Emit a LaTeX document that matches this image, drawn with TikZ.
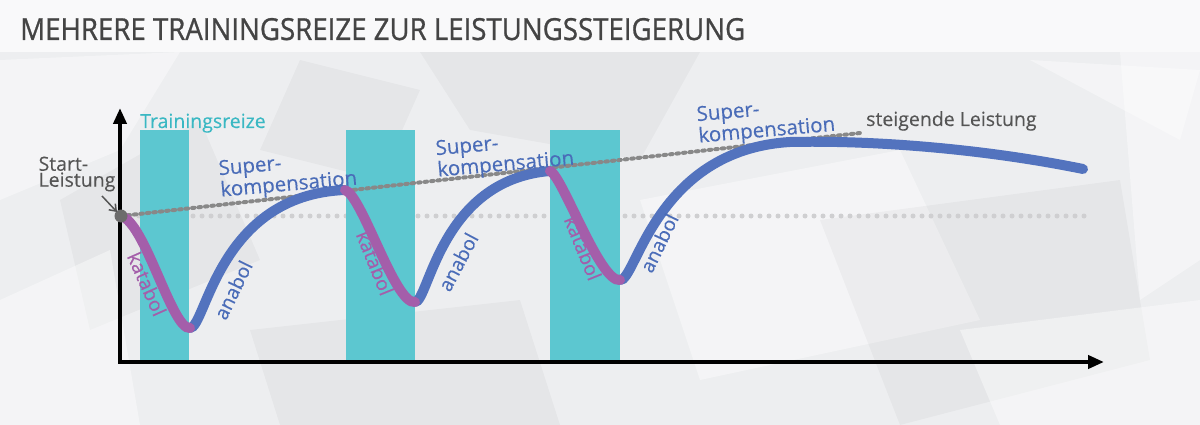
\documentclass[tikz,border=0pt]{standalone}
\usepackage{fontspec}
\setmainfont{Open Sans}
\newfontfamily\lblfont{Open Sans}[FakeBold=0.25]
\newfontfamily\ttlfont{Open Sans}[FakeBold=0.9]
\usetikzlibrary{arrows.meta}
\definecolor{bgc}{HTML}{EDEEF0}
\definecolor{teal}{HTML}{5CC7D0}
\definecolor{tealtxt}{HTML}{3AB8C3}
\definecolor{curveblue}{HTML}{5373BE}
\definecolor{txtblue}{HTML}{4A6CB8}
\definecolor{purp}{HTML}{A45EAA}
\definecolor{darkgr}{HTML}{888888}
\definecolor{lightgr}{HTML}{CFCFD1}
\definecolor{txtgr}{HTML}{555555}
\definecolor{titlegr}{HTML}{444444}
\begin{document}
\begin{tikzpicture}[x=1pt,y=-1pt,
  bar/.style={fill=teal},
  axis/.style={line width=4pt,-{Triangle[length=16pt,width=13pt]}},
  blueseg/.style={draw=curveblue,line width=10pt,line cap=round},
  purpseg/.style={draw=purp,line width=10pt,line cap=round},
  lbl/.style={font=\lblfont\fontsize{19.5}{16}\selectfont,inner sep=0pt,align=left},
  superlbl/.style={lbl,font=\lblfont\fontsize{20.5}{15}\selectfont,text=txtblue,rotate=5},
  katlbl/.style={lbl,text=purp},
  anlbl/.style={lbl,text=txtblue},
  poly/.style={fill=white,opacity=0.4},
  polyd/.style={fill=black,opacity=0.03}]
\useasboundingbox (0,0) rectangle (1200,425);
% background
\fill[bgc] (0,0) rectangle (1200,425);
\fill[poly] (0,60) -- (180,52) -- (120,150) -- (0,200) -- cycle;
\fill[polyd] (60,200) -- (200,120) -- (260,260) -- (90,330) -- cycle;
\fill[poly] (0,300) -- (110,250) -- (140,425) -- (0,425) -- cycle;
\fill[polyd] (420,52) -- (700,52) -- (640,160) -- (470,130) -- cycle;
\fill[poly] (640,200) -- (900,150) -- (980,320) -- (700,380) -- cycle;
\fill[polyd] (820,220) -- (1120,180) -- (1150,360) -- (900,425) -- cycle;
\fill[poly] (1120,52) -- (1200,52) -- (1200,260) -- (1140,300) -- cycle;
\fill[polyd] (250,330) -- (520,300) -- (560,425) -- (280,425) -- cycle;
\fill[poly] (960,330) -- (1200,300) -- (1200,425) -- (1000,425) -- cycle;
\fill[polyd] (300,60) -- (420,90) -- (380,180) -- (260,150) -- cycle;
\fill[poly] (1030,60) -- (1200,70) -- (1180,140) -- cycle;
\fill[white,opacity=0.7] (0,0) rectangle (1200,52);
% title
\node[anchor=base west,inner sep=0pt,text=titlegr] (title) at (20,40)
  {\resizebox{725pt}{22pt}{\ttlfont\fontsize{30}{30}\selectfont MEHRERE TRAININGSREIZE ZUR LEISTUNGSSTEIGERUNG}};
% coordinates
\coordinate (s0) at (121,216);
\coordinate (m1) at (190,328);
\coordinate (p1) at (345,190);
\coordinate (m2) at (415,302);
\coordinate (p2) at (550,171);
\coordinate (m3) at (620,280);
\coordinate (p3) at (790,142);
\coordinate (e) at (1083,169);
\coordinate (hl) at (1092,216);
\coordinate (tl) at (860,133);
% baseline dotted
\draw[lightgr,line width=5pt,line cap=round,dash pattern=on 0pt off 9pt] (s0) -- (hl);
% bars
\fill[bar] (140,130) rectangle (189,362);
\fill[bar] (346,130) rectangle (415,362);
\fill[bar] (550,130) rectangle (620,362);
% trend dotted
\draw[darkgr,line width=4pt,line cap=round,dash pattern=on 2.5pt off 4pt] (s0) -- (tl);
% axes
\coordinate (o) at (120,362);
\coordinate (yt) at (120,108);
\coordinate (xt) at (1104,362);
\draw[axis] ([yshift=2pt]o) -- (yt);
\draw[axis] ([xshift=-2pt]o) -- (xt);
% curve
\draw[blueseg] (m1) .. controls (206,328) and (218,195) .. (p1);
\draw[blueseg] (m2) .. controls (429,302) and (440,180) .. (p2);
\draw[blueseg] (m3) .. controls (636,282) and (655,150) .. (p3)
   .. controls (880,140) and (990,150) .. (e);
\draw[purpseg] (s0) .. controls (145,222) and (172,330) .. (m1);
\draw[purpseg] (p1) .. controls (362,195) and (395,305) .. (m2);
\draw[purpseg] (p2) .. controls (562,175) and (600,283) .. (m3);
\fill[gray!85!black] (s0) circle (6.5pt);
% labels
\node[lbl,text=tealtxt,anchor=base west] (tr) at (140,128) {Trainingsreize};
\node[lbl,text=txtgr] (start) at (77,174) {Start-\\Leistung};
\coordinate (sa1) at (102,196);
\coordinate (sa2) at (117,212);
\draw[txtgr,line width=1.5pt,-{Straight Barb[length=6pt,width=9pt]}] (sa1) -- (sa2);
\node[lbl,text=txtgr,anchor=base west] (steig) at (866,126) {steigende Leistung};
\node[superlbl] (sk1) at (288,175) {Super-\\kompensation};
\node[superlbl] (sk2) at (505,155) {Super-\\kompensation};
\node[superlbl] (sk3) at (766,121) {Super-\\kompensation};
\node[katlbl,rotate=-66] (k1) at (147,284) {katabol};
\node[katlbl,rotate=-68] (k2) at (375,263) {katabol};
\node[katlbl,rotate=-68] (k3) at (583,248) {katabol};
\node[anlbl,rotate=64] (a1) at (233,290) {anabol};
\node[anlbl,rotate=62] (a2) at (458,262) {anabol};
\node[anlbl,rotate=64] (a3) at (659,243) {anabol};
\end{tikzpicture}
\end{document}
